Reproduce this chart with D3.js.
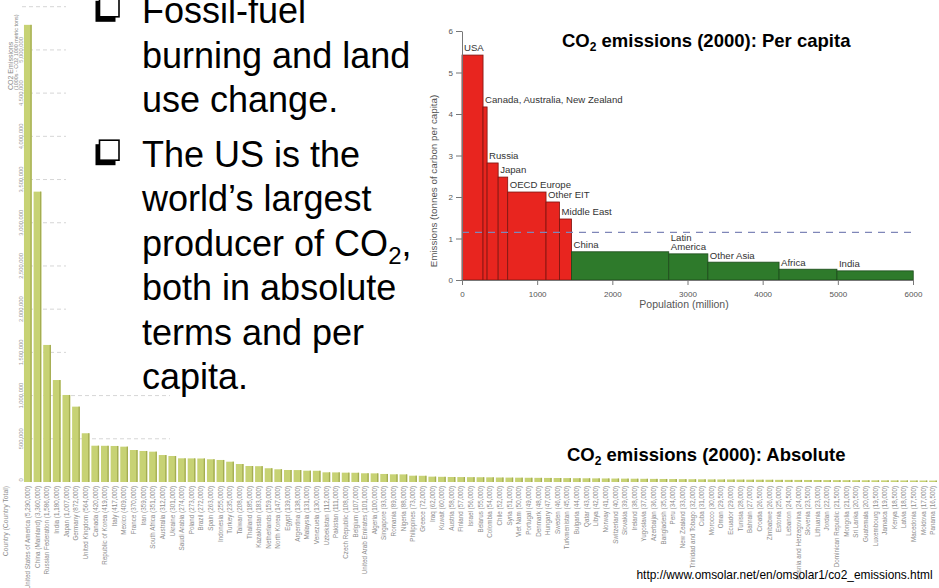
<!DOCTYPE html>
<html>
<head>
<meta charset="utf-8">
<script src="https://cdn.jsdelivr.net/npm/d3@7"></script>
<style>
  html, body { margin: 0; padding: 0; background: #fff; }
  svg { display: block; }
</style>
</head>
<body>
<svg id="slide" width="939" height="588"></svg>
<script>
// ---- Absolute CO2 emissions by country, 2000 (1000 metric tons) ----
const countries = [
  "United States of America", "China (Mainland)", "Russian Federation", "India", "Japan",
  "Germany", "United Kingdom", "Canada", "Republic of Korea", "Italy",
  "Mexico", "France", "Iran", "South Africa", "Australia",
  "Ukraine", "Saudi Arabia", "Poland", "Brazil", "Spain",
  "Indonesia", "Turkey", "Taiwan", "Thailand", "Kazakhstan",
  "Netherlands", "North Korea", "Egypt", "Argentina", "Malaysia",
  "Venezuela", "Uzbekistan", "Pakistan", "Czech Republic", "Belgium",
  "United Arab Emirates", "Algeria", "Singapore", "Romania", "Nigeria",
  "Philippines", "Greece", "Iraq", "Kuwait", "Austria",
  "Finland", "Israel", "Belarus", "Colombia", "Chile",
  "Syria", "Viet Nam", "Portugal", "Denmark", "Hungary",
  "Sweden", "Turkmenistan", "Bulgaria", "Qatar", "Libya",
  "Norway", "Switzerland", "Slovakia", "Ireland", "Yugoslavia",
  "Azerbaijan", "Bangladesh", "Peru", "New Zealand", "Trinidad and Tobago",
  "Cuba", "Morocco", "Oman", "Ecuador", "Tunisia",
  "Bahrain", "Croatia", "Zimbabwe", "Estonia", "Lebanon",
  "Bosnia and Herzegovina", "Slovenia", "Lithuania", "Jordan", "Dominican Republic",
  "Mongolia", "Sri Lanka", "Guatemala", "Luxembourg", "Jamaica",
  "Kenya", "Latvia", "Macedonia", "Moldova", "Panama"
];
const totals = [
  5290000, 3360000, 1586000, 1180000, 1007000,
  872000, 564000, 420000, 419000, 417000,
  409000, 370000, 359000, 351000, 312000,
  301000, 274000, 273000, 272000, 263000,
  255000, 235000, 208000, 185000, 183000,
  159000, 147000, 139000, 138000, 131000,
  130000, 112000, 111000, 108000, 107000,
  101000, 100000, 93000, 89000, 88000,
  73000, 72000, 62000, 60000, 58000,
  57000, 56000, 55000, 54000, 52000,
  51000, 50000, 49000, 48000, 47000,
  46000, 45000, 44000, 43000, 42000,
  41000, 40000, 39000, 38000, 37000,
  36000, 35000, 34000, 33000, 32000,
  31000, 30000, 29500, 29000, 28000,
  27000, 26500, 26000, 25000, 24500,
  24000, 23500, 23000, 22000, 21500,
  21000, 20500, 20000, 19500, 19000,
  18500, 18000, 17500, 17000, 16500
];
const totalTicks = [0, 500000, 1000000, 1500000, 2000000, 2500000, 3000000,
                    3500000, 4000000, 4500000, 5000000, 5500000];

// ---- Per-capita emissions by region, 2000 (tonnes of carbon per person) ----
const regionLabels = [
  ["USA"], ["Canada, Australia, New Zealand"], ["Russia"], ["Japan"],
  ["OECD Europe"], ["Other EIT"], ["Middle East"], ["China"],
  ["Latin", "America"], ["Other Asia"], ["Africa"], ["India"]
];
const population = [280, 54, 147, 127, 510, 180, 160, 1293, 520, 947, 770, 1015];
const perCapita = [5.42, 4.17, 2.82, 2.48, 2.12, 1.88, 1.47, 0.68, 0.63, 0.43, 0.26, 0.22];
const industrialised = [true, true, true, true, true, true, true, false, false, false, false, false];
const worldAverage = 1.15;
const populationTicks = [0, 1000, 2000, 3000, 4000, 5000, 6000];
const perCapitaTicks = [0, 1, 2, 3, 4, 5, 6];

const fmt = d3.format(",");
const svg = d3.select("#slide");
const SANS = "'Liberation Sans', Arial, Helvetica, sans-serif";

// ================= background bar chart: absolute emissions =================
const x = d3.scaleBand()
  .domain(d3.range(countries.length))
  .range([23, 23 + countries.length * 9.63])
  .paddingInner(0.2)
  .paddingOuter(0.1);
const y = d3.scaleLinear().domain([0, 5500000]).range([482, 6.7]);

const main = svg.append("g");

// dashed value gridlines
main.append("g").selectAll("line")
  .data(totalTicks.filter(d => d > 0))
  .join("line")
  .attr("x1", 22).attr("x2", 170)
  .attr("y1", d => y(d)).attr("y2", d => y(d))
  .attr("stroke", "#d6d6d6")
  .attr("stroke-width", 1)
  .attr("stroke-dasharray", "4,3");

// the bullet text frame sits on top of the chart's gridlines
svg.append("rect")
  .attr("x", 66).attr("y", 0).attr("width", 364).attr("height", 392)
  .attr("fill", "#fff");

// bars
const bars = svg.append("g");
bars.selectAll("rect.bar")
  .data(totals)
  .join("rect")
  .attr("class", "bar")
  .attr("x", (d, i) => x(i))
  .attr("y", d => y(d))
  .attr("width", x.bandwidth())
  .attr("height", d => y(0) - y(d))
  .attr("fill", "#c7d274");
bars.selectAll("rect.edge")
  .data(totals)
  .join("rect")
  .attr("class", "edge")
  .attr("x", (d, i) => x(i) + x.bandwidth() - 1.3)
  .attr("y", d => y(d))
  .attr("width", 1.3)
  .attr("height", d => y(0) - y(d))
  .attr("fill", "#a4ad52");

// country labels under the bars
svg.append("g").selectAll("text")
  .data(countries)
  .join("text")
  .attr("transform", (d, i) => `translate(${x(i) + x.bandwidth() / 2 + 2.3},486) rotate(-90)`)
  .attr("text-anchor", "end")
  .style("font-family", SANS)
  .style("font-size", "6.3px")
  .attr("fill", "#8c8c8c")
  .text((d, i) => `${d} (${fmt(totals[i])})`);

svg.append("text")
  .attr("transform", "translate(7.5,486) rotate(-90)")
  .attr("text-anchor", "end")
  .style("font-family", SANS)
  .style("font-size", "6.8px")
  .attr("fill", "#8c8c8c")
  .text("Country (Country Total)");

// value axis labels, centred on their gridlines
svg.append("g").selectAll("text")
  .data(totalTicks.filter(d => d < 5500000))
  .join("text")
  .attr("transform", d => `translate(22.5,${d === 0 ? y(d) - 2 : y(d)}) rotate(-90)`)
  .attr("text-anchor", "middle")
  .style("font-family", SANS)
  .style("font-size", "5.8px")
  .attr("fill", "#9a9a9a")
  .text(d => fmt(d));

svg.append("text")
  .attr("transform", "translate(13,90) rotate(-90)")
  .style("font-family", SANS)
  .style("font-size", "7px")
  .attr("fill", "#8a8a8a")
  .text("CO2 Emissions");
svg.append("text")
  .attr("transform", "translate(18,90) rotate(-90)")
  .style("font-family", SANS)
  .style("font-size", "5.4px")
  .attr("fill", "#8a8a8a")
  .text("(1000s - CO2 1000 metric tons)");

// ================= slide bullets =================
const bulletLines = [
  { y: 23.3, parts: [["Fossil-fuel"]], bullet: true },
  { y: 67.5, parts: [["burning and land"]] },
  { y: 111.7, parts: [["use change."]] },
  { y: 166.7, parts: [["The US is the"]], bullet: true },
  { y: 211, parts: [["world\u2019s largest"]] },
  { y: 255.5, parts: [["producer of CO"], ["2", "sub"], [","]] },
  { y: 300, parts: [["both in absolute"]] },
  { y: 344.5, parts: [["terms and per"]] },
  { y: 389, parts: [["capita."]] }
];
const textG = svg.append("g");
bulletLines.forEach(line => {
  const t = textG.append("text")
    .attr("x", 142).attr("y", line.y)
    .style("font-family", SANS)
    .style("font-size", "36px")
    .attr("fill", "#000");
  line.parts.forEach(([s, kind]) => {
    const ts = t.append("tspan").text(s);
    if (kind === "sub") ts.attr("dy", 8).style("font-size", "24px");
    else if (t.selectAll("tspan").size() > 1) ts.attr("dy", -8);
  });
  if (line.bullet) {
    const top = line.y - 26.5;
    textG.append("rect")
      .attr("x", 95.5).attr("y", top + 4).attr("width", 20).attr("height", 21)
      .attr("fill", "#000");
    textG.append("rect")
      .attr("x", 99.5).attr("y", top).attr("width", 19.5).attr("height", 20)
      .attr("fill", "#fff").attr("stroke", "#000").attr("stroke-width", 1.6);
  }
});

// ================= inset: per-capita emissions vs population =================
const px = d3.scaleLinear().domain([0, 6000]).range([462, 913]);
const py = d3.scaleLinear().domain([0, 6]).range([280, 31]);
const starts = [0, ...d3.cumsum(population)].slice(0, population.length);

const inset = svg.append("g");

inset.selectAll("rect.region")
  .data(perCapita)
  .join("rect")
  .attr("class", "region")
  .attr("x", (d, i) => px(starts[i]))
  .attr("y", d => py(d))
  .attr("width", (d, i) => px(starts[i] + population[i]) - px(starts[i]))
  .attr("height", d => py(0) - py(d))
  .attr("fill", (d, i) => industrialised[i] ? "#e8251f" : "#2e7a2b")
  .attr("stroke", (d, i) => industrialised[i] ? "#7d1410" : "#1c4a1a")
  .attr("stroke-width", 0.8);

// world average
inset.append("line")
  .attr("x1", px(0)).attr("x2", px(6000))
  .attr("y1", py(worldAverage)).attr("y2", py(worldAverage))
  .attr("stroke", "#7f86b8")
  .attr("stroke-width", 1.3)
  .attr("stroke-dasharray", "7,6");

// region labels
const lineGap = 9.2;
inset.selectAll("text.region")
  .data(regionLabels)
  .join("text")
  .attr("class", "region")
  .attr("x", (d, i) => px(starts[i]) + 2)
  .attr("y", (d, i) => py(perCapita[i]) - 3.6 - (d.length - 1) * lineGap)
  .style("font-family", SANS)
  .style("font-size", "9.6px")
  .attr("fill", "#333")
  .each(function (d, i) {
    d3.select(this).selectAll("tspan")
      .data(d)
      .join("tspan")
      .attr("x", px(starts[i]) + 2)
      .attr("dy", (s, k) => k === 0 ? 0 : lineGap)
      .text(s => s);
  });

// axes
const axisFont = "'Liberation Sans Narrow', 'Arial Narrow', " + SANS;
const yAxis = inset.append("g")
  .attr("transform", `translate(${px(0)},0)`)
  .call(d3.axisLeft(py).tickValues(perCapitaTicks).tickFormat(d3.format("d"))
    .tickSize(6).tickSizeOuter(0).tickPadding(3));
const xAxis = inset.append("g")
  .attr("transform", `translate(0,${py(0)})`)
  .call(d3.axisBottom(px).tickValues(populationTicks).tickFormat(d3.format("d"))
    .tickSize(5).tickSizeOuter(0).tickPadding(6));
[yAxis, xAxis].forEach(a => {
  a.select(".domain").attr("stroke", "#777").attr("stroke-width", 1);
  a.selectAll(".tick line").attr("stroke", "#777");
  a.selectAll(".tick text")
    .style("font-family", axisFont)
    .style("font-size", "8px")
    .attr("fill", "#555");
});

inset.append("text")
  .attr("transform", "translate(437,181) rotate(-90)")
  .attr("text-anchor", "middle")
  .style("font-family", SANS)
  .style("font-size", "9.8px")
  .attr("fill", "#555")
  .text("Emissions (tonnes of carbon per capita)");
inset.append("text")
  .attr("x", 684).attr("y", 307.5)
  .attr("text-anchor", "middle")
  .style("font-family", SANS)
  .style("font-size", "10.5px")
  .attr("fill", "#555")
  .text("Population (million)");

// ================= titles and source =================
function title(xp, yp, rest) {
  const t = svg.append("text")
    .attr("x", xp).attr("y", yp)
    .style("font-family", SANS)
    .style("font-size", "18.5px")
    .style("font-weight", "bold")
    .attr("fill", "#000");
  t.append("tspan").text("CO");
  t.append("tspan").attr("dy", 4).style("font-size", "12px").text("2");
  t.append("tspan").attr("dy", -4).text(rest);
}
title(562, 46.5, " emissions (2000): Per capita");
title(567, 460.5, " emissions (2000): Absolute");

svg.append("text")
  .attr("x", 636.5).attr("y", 579)
  .style("font-family", SANS)
  .style("font-size", "11.9px")
  .attr("fill", "#000")
  .text("http://www.omsolar.net/en/omsolar1/co2_emissions.html");
</script>
</body>
</html>
